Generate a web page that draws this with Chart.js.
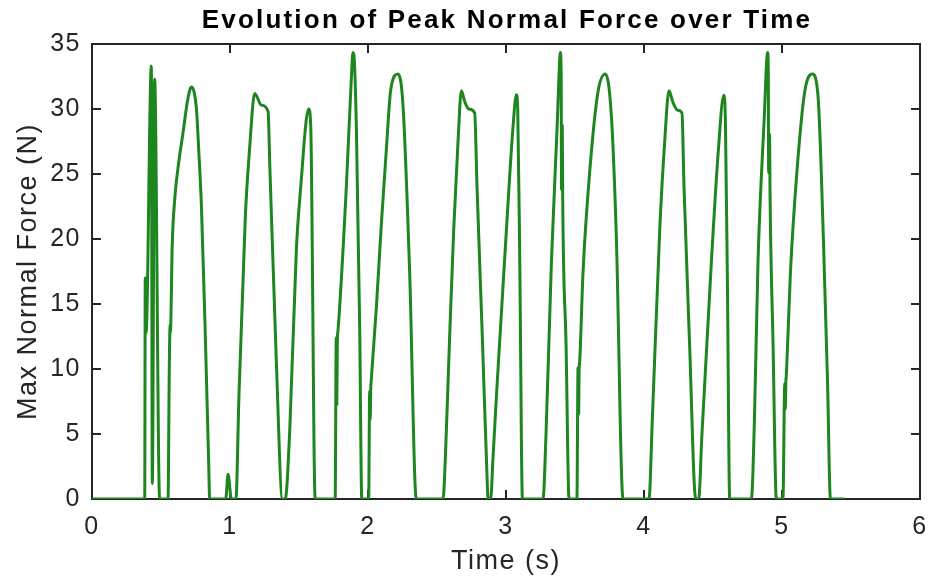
<!DOCTYPE html>
<html>
<head>
<meta charset="utf-8">
<script src="https://cdn.jsdelivr.net/npm/chart.js@4.4.1/dist/chart.umd.min.js"></script>
<style>
  html, body { margin: 0; padding: 0; background: #fff; }
  #wrap { width: 930px; height: 579px; }
</style>
</head>
<body>
<div id="wrap"><canvas id="forceChart" width="930" height="579"></canvas></div>
<script>
// ----------------------
// DATA
// ----------------------

// sample times (s)
const timeS = [
  0, 0.382,
  0.386, 0.392, 0.430, 0.437, 0.454, 0.490,
  0.551, 0.560, 0.566, 0.568, 0.572, 0.580, 0.599, 0.630, 0.660, 0.690, 0.710, 0.722, 0.740, 0.757, 0.775, 0.793, 0.820, 0.845, 0.853,
  0.969, 0.986, 1.010, 1.043,
  1.065, 1.111, 1.143, 1.179, 1.227, 1.276, 1.288, 1.336, 1.380,
  1.400, 1.433, 1.481, 1.517, 1.553, 1.570, 1.585, 1.617,
  1.762, 1.770, 1.774, 1.778, 1.782, 1.843, 1.880, 1.891, 1.902, 1.916, 1.940, 1.955,
  2.005, 2.012, 2.016, 2.020, 2.024, 2.061, 2.097, 2.133, 2.165, 2.218, 2.254, 2.302, 2.350,
  2.544, 2.560, 2.590, 2.621, 2.650, 2.677, 2.700, 2.730, 2.773, 2.790, 2.830, 2.865, 2.870,
  2.889, 2.905, 2.930, 2.965, 3.003, 3.050, 3.075, 3.085, 3.100, 3.119,
  3.268, 3.290, 3.329, 3.370, 3.390, 3.394, 3.400, 3.402, 3.408, 3.411, 3.435, 3.457,
  3.514, 3.522, 3.526, 3.530, 3.534, 3.558, 3.606, 3.667, 3.720, 3.764, 3.800, 3.848,
  4.036, 4.060, 4.114, 4.150, 4.181, 4.210, 4.245, 4.275, 4.290, 4.330, 4.375,
  4.396, 4.420, 4.488, 4.540, 4.578, 4.590, 4.605, 4.621,
  4.778, 4.800, 4.826, 4.870, 4.896, 4.901, 4.903, 4.910, 4.913, 4.935, 4.959,
  5.007, 5.020, 5.024, 5.028, 5.032, 5.061, 5.109, 5.165, 5.220, 5.261, 5.300, 5.330, 5.351,
  5.454
];

// peak normal force (N) at each sample time
const forceN = [
  0, 0,
  17.0, 12.8, 33.3, 1.2, 32.3, 0,
  0, 10.0, 13.4, 12.8, 13.9, 19.0, 23.0, 26.0, 28.2, 30.5, 31.5, 31.7, 31.3, 30.0, 26.5, 22.5, 13.0, 3.0, 0,
  0, 1.9, 0, 0,
  8.0, 21.7, 27.1, 31.2, 30.3, 29.8, 25.8, 10.5, 0,
  0, 5.3, 19.2, 24.6, 29.2, 30.0, 28.7, 0,
  0, 12.4, 7.3, 12.2, 12.9, 24.0, 32.5, 34.35, 33.5, 28.4, 13.0, 0,
  0, 8.3, 6.1, 8.5, 9.2, 14.8, 21.2, 26.9, 31.5, 32.7, 30.2, 17.4, 0,
  0, 3.0, 12.0, 20.7, 27.0, 31.4, 30.6, 30.0, 29.7, 24.0, 12.0, 1.0, 0,
  0, 3.0, 7.8, 14.0, 20.7, 28.5, 31.1, 30.0, 18.0, 0,
  0, 5.0, 18.2, 28.5, 34.0, 34.35, 32.5, 23.8, 28.7, 23.1, 12.0, 0,
  0, 10.1, 6.5, 10.0, 10.6, 17.4, 25.1, 31.35, 32.7, 29.4, 20.0, 0,
  0, 6.0, 20.7, 27.5, 31.4, 30.5, 29.9, 29.7, 24.0, 12.0, 0,
  0, 5.0, 18.2, 27.0, 31.05, 29.0, 16.0, 0,
  0, 6.0, 18.2, 29.0, 34.35, 32.5, 25.1, 28.0, 23.8, 12.0, 0,
  0, 8.9, 6.9, 9.0, 9.6, 17.4, 25.3, 31.35, 32.7, 31.0, 20.0, 9.0, 0,
  0
];

const xTicks = [0, 1, 2, 3, 4, 5, 6];
const yTicks = [0, 5, 10, 15, 20, 25, 30, 35];

const points = timeS.map((t, i) => ({ x: t, y: forceN[i] }));

// ----------------------
// AXES BOX, INWARD TICKS, TITLE
// ----------------------

const axisColor = '#262626';
const fontFamily = '"Liberation Sans", Arial, sans-serif';
const textSpacing = '1.5px';

const boxPlugin = {
  id: 'matBox',
  // wider letter spacing for the axis text, set before measuring and drawing
  beforeUpdate(chart) { chart.ctx.letterSpacing = textSpacing; },
  beforeDraw(chart) { chart.ctx.letterSpacing = textSpacing; },
  beforeDatasetsDraw(chart) {
    const { ctx, chartArea: a, scales } = chart;
    ctx.save();
    ctx.strokeStyle = axisColor;
    ctx.lineWidth = 2;
    ctx.strokeRect(a.left, a.top, a.right - a.left, a.bottom - a.top);

    ctx.beginPath();
    xTicks.forEach(v => {
      const px = Math.round(scales.x.getPixelForValue(v));
      ctx.moveTo(px, a.bottom); ctx.lineTo(px, a.bottom - 9);
      ctx.moveTo(px, a.top); ctx.lineTo(px, a.top + 9);
    });
    yTicks.forEach(v => {
      const py = Math.round(scales.y.getPixelForValue(v));
      ctx.moveTo(a.left, py); ctx.lineTo(a.left + 9, py);
      ctx.moveTo(a.right, py); ctx.lineTo(a.right - 9, py);
    });
    ctx.stroke();
    ctx.restore();
  },
  afterDraw(chart) {
    const { ctx, chartArea: a } = chart;
    ctx.save();
    ctx.fillStyle = '#000';
    ctx.font = 'bold 26px ' + fontFamily;
    ctx.letterSpacing = '2.2px';
    ctx.textAlign = 'center';
    ctx.textBaseline = 'alphabetic';
    ctx.fillText('Evolution of Peak Normal Force over Time', (a.left + a.right) / 2 + 1, 28);
    ctx.restore();
  }
};

// ----------------------
// CHART
// ----------------------

const ctx = document.getElementById('forceChart').getContext('2d');

new Chart(ctx, {
  type: 'line',
  data: {
    datasets: [{
      data: points,
      borderColor: '#1e861e',
      borderWidth: 3,
      pointRadius: 0,
      fill: false,
      cubicInterpolationMode: 'monotone'
    }]
  },
  options: {
    responsive: false,
    animation: false,
    devicePixelRatio: 1,
    layout: { padding: { top: 44, right: 10, left: 0, bottom: 0 } },
    plugins: {
      legend: { display: false },
      tooltip: { enabled: false },
      title: { display: false }
    },
    scales: {
      x: {
        type: 'linear',
        min: 0,
        max: 6,
        afterFit: s => { s.height = 80; s.paddingLeft = 0; s.paddingRight = 0; },
        afterBuildTicks: s => { s.ticks = xTicks.map(v => ({ value: v })); },
        grid: { display: false, drawTicks: false },
        border: { display: false },
        ticks: {
          color: axisColor,
          padding: 13,
          font: { family: fontFamily, size: 25 }
        },
        title: {
          display: true,
          text: 'Time (s)',
          color: axisColor,
          padding: { top: 0, bottom: 1 },
          font: { family: fontFamily, size: 27 }
        }
      },
      y: {
        type: 'linear',
        min: 0,
        max: 35,
        afterFit: s => { s.width = 92; },
        afterBuildTicks: s => { s.ticks = yTicks.map(v => ({ value: v })); },
        grid: { display: false, drawTicks: false },
        border: { display: false },
        ticks: {
          color: axisColor,
          padding: 11,
          font: { family: fontFamily, size: 25 }
        },
        title: {
          display: true,
          text: 'Max Normal Force (N)',
          color: axisColor,
          padding: { top: 12, bottom: 0 },
          font: { family: fontFamily, size: 27 }
        }
      }
    }
  },
  plugins: [boxPlugin]
});
</script>
</body>
</html>
